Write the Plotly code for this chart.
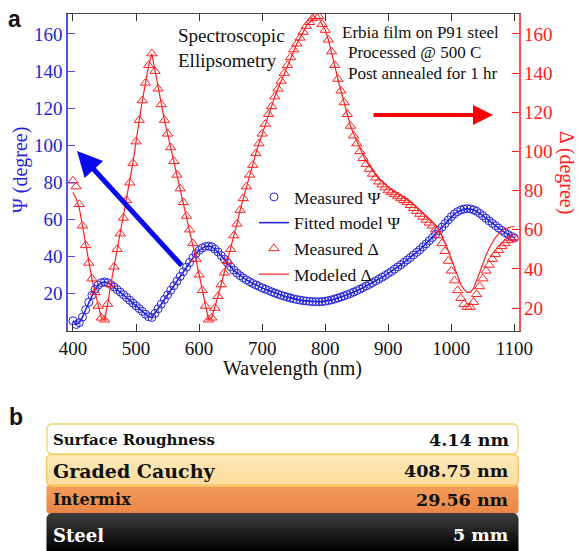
import plotly.graph_objects as go

W, H = 579, 551

# ---------------- data ----------------
wavelength = list(range(400, 1101, 5))

psi_measured = [
    5.0, 3.0, 4.0, 7.0, 11.0, 15.0, 18.8, 22.0, 24.3, 25.6,
    26.0, 25.6, 24.6, 23.3, 21.9, 20.5, 19.1, 17.6, 16.1, 14.6,
    13.1, 11.6, 10.1, 8.6, 7.2, 6.8, 9.0, 11.5, 14.0, 16.5,
    19.0, 21.5, 24.0, 26.5, 29.0, 31.5, 34.0, 36.5, 39.0, 41.3,
    43.1, 44.4, 45.2, 45.4, 45.0, 43.8, 42.2, 40.3, 38.3, 36.2,
    34.2, 32.4, 30.8, 29.4, 28.2, 27.1, 26.1, 25.2, 24.4, 23.6,
    22.8, 22.1, 21.4, 20.7, 20.0, 19.4, 18.8, 18.3, 17.8, 17.3,
    16.9, 16.5, 16.2, 15.9, 15.7, 15.5, 15.4, 15.3, 15.3, 15.4,
    15.6, 15.9, 16.3, 16.8, 17.3, 17.9, 18.5, 19.1, 19.8, 20.5,
    21.3, 22.1, 22.9, 23.8, 24.7, 25.6, 26.5, 27.5, 28.5, 29.5,
    30.6, 31.7, 32.9, 34.1, 35.3, 36.6, 37.9, 39.2, 40.6, 42.0,
    43.4, 45.0, 46.6, 48.3, 50.0, 51.8, 53.7, 55.6, 57.6, 59.5,
    61.3, 62.8, 64.0, 64.9, 65.4, 65.6, 65.5, 65.0, 64.2, 63.1,
    61.8, 60.4, 59.0, 57.7, 56.4, 55.1, 53.9, 52.7, 51.6, 50.6,
    49.8,
]
psi_fitted = list(psi_measured)

delta_measured = [
    85, 82, 73, 62, 52, 43, 35, 28, 21, 15,
    14, 22, 32, 41, 50, 58, 66, 75, 84, 94,
    105, 116, 126, 135, 144, 150, 141, 132, 124, 116,
    109, 102, 95, 88, 81, 74, 67, 60, 53, 45,
    37, 29, 21, 14, 15, 20, 26, 32, 38, 44,
    50, 57, 63, 70, 76, 82, 88, 93, 99, 104,
    109, 114, 119, 123, 128, 132, 136, 140, 144, 148,
    152, 155, 158, 161, 164, 166, 168, 169, 169, 165,
    162, 157, 151, 144, 137, 131, 125, 119, 113, 108,
    104, 100, 96.5, 93.5, 91, 88.5, 86.5, 84.5, 83, 81.5,
    80, 79, 78, 77, 76, 75, 74, 72.5, 71, 69.5,
    68, 66.5, 65, 63.5, 62, 60, 57, 53, 49, 44,
    39, 34, 29, 25, 22, 20.5, 20.5, 23, 27, 31,
    35, 39, 42, 45, 47.5, 49.5, 51.5, 53, 54.5, 55.5,
    56,
]

delta_modeled = [
    79, 76, 71, 62, 52, 43, 35, 28, 21, 15,
    14, 22, 32, 41, 50, 58, 66, 75, 84, 94,
    105, 116, 126, 135, 144, 150, 141, 132, 124, 116,
    109, 102, 95, 88, 81, 74, 67, 60, 53, 45,
    37, 29, 21, 14, 15, 20, 26, 32, 38, 44,
    50, 57, 63, 70, 76, 82, 88, 93, 99, 104,
    109, 114, 119, 123, 128, 132, 136, 140, 144, 148,
    152, 155, 158, 161, 164, 166, 167.5, 168, 168, 165,
    162, 157, 151, 144, 137, 131, 125, 119, 113, 109,
    105, 101.5, 98, 95, 92.5, 90, 88, 86, 84.5, 83,
    81.5, 80.5, 79.5, 78.5, 77.5, 76.5, 75.5, 74.5, 73, 71.5,
    70, 68.5, 67, 65.5, 64, 62.5, 60, 57, 53.5, 49.5,
    45, 40.5, 36, 32, 29.5, 28, 28, 30, 34, 38.5,
    43, 47, 50.5, 53.5, 56, 58, 59.5, 60.5, 61, 61.5,
    61.5,
]

x_ticks = [400, 500, 600, 700, 800, 900, 1000, 1100]
y_ticks = [20, 40, 60, 80, 100, 120, 140, 160]

layer_names = ["Surface Roughness", "Graded Cauchy", "Intermix", "Steel"]
layer_thickness = ["4.14 nm", "408.75 nm", "29.56 nm", "5 mm"]

# ---------------- styling ----------------
BLUE = "#2424dc"
BLUE_AX = "#5555d8"
RED = "#ff2020"
SERIF = "Liberation Serif"


def fx(p):
    return p / W


def fy(p):
    return 1 - p / H


# plot area in pixels
PL, PR, PT, PB = 68, 518.5, 14, 331

fig = go.Figure()
fig.add_trace(go.Scatter(
    x=wavelength, y=psi_measured, mode="markers", name="Measured Ψ",
    marker=dict(symbol="circle-open", size=8, color=BLUE, line=dict(width=1)),
    yaxis="y"))
fig.add_trace(go.Scatter(
    x=wavelength, y=psi_fitted, mode="lines", name="Fitted model Ψ",
    line=dict(color=BLUE, width=1.6), yaxis="y"))
fig.add_trace(go.Scatter(
    x=wavelength, y=delta_measured, mode="markers", name="Measured Δ",
    marker=dict(symbol="triangle-up-open", size=9, color=RED, line=dict(width=1)),
    yaxis="y2"))
fig.add_trace(go.Scatter(
    x=wavelength, y=delta_modeled, mode="lines", name="Modeled Δ",
    line=dict(color=RED, width=1.2), yaxis="y2"))

tickfont_x = dict(family=SERIF, size=19, color="#111")
fig.update_layout(
    width=W, height=H,
    margin=dict(l=0, r=0, t=0, b=0, autoexpand=False),
    paper_bgcolor="white", plot_bgcolor="white",
    showlegend=True,
    legend=dict(x=fx(254), y=fy(179), xanchor="left", yanchor="top",
                bgcolor="rgba(0,0,0,0)", font=dict(family=SERIF, size=17.5, color="#111"),
                itemwidth=30, tracegroupgap=0),
    xaxis=dict(domain=[fx(PL), fx(PR)], range=[392.1, 1106.5], automargin=False,
               tickvals=x_ticks, ticks="inside", ticklen=7, tickcolor="#333",
               showline=True, linecolor="#444", linewidth=1.3, mirror="ticks",
               showgrid=False, zeroline=False, tickfont=tickfont_x),
    yaxis=dict(domain=[fy(PB), fy(PT)], range=[-0.5, 170.8], automargin=False,
               tickvals=y_ticks, ticks="inside", ticklen=7, tickcolor=BLUE_AX,
               showline=True, linecolor=BLUE_AX, linewidth=1.5,
               showgrid=False, zeroline=False,
               tickfont=dict(family=SERIF, size=19, color=BLUE)),
    yaxis2=dict(overlaying="y", side="right", range=[8.25, 170.2], automargin=False,
                tickvals=y_ticks, ticks="inside", ticklen=7, tickcolor=RED,
                showline=True, linecolor="#ff5050", linewidth=1.5,
                showgrid=False, zeroline=False,
                tickfont=dict(family=SERIF, size=19, color=RED)),
)


def text_ann(text, x, y, size, color="#111", family=SERIF, xanchor="center", angle=0):
    return dict(text=text, x=fx(x), y=fy(y), xref="paper", yref="paper",
                xanchor=xanchor, yanchor="middle", showarrow=False, textangle=angle,
                font=dict(family=family, size=size, color=color))


ann = []
# axis titles
ann.append(text_ann("Wavelength (nm)", 293, 368, 20))
ann.append(text_ann("Ψ (degree)", 20, 170, 20, color=BLUE, angle=-90))
ann.append(text_ann("Δ (degree)", 567, 172, 20, color=RED, angle=90))
# text blocks
for t, yy in [("Spectroscopic", 35), ("Ellipsometry", 60)]:
    ann.append(text_ann(t, 176, yy, 19, xanchor="left"))
for t, xx, yy in [("Erbia film on P91 steel", 340, 33), ("Processed @ 500 C", 346, 53),
                  ("Post annealed for 1 hr", 346, 73)]:
    ann.append(text_ann(t, xx, yy, 17, xanchor="left"))
# arrows
ann.append(dict(text="", x=fx(77), y=fy(151), xref="paper", yref="paper",
                ax=106, ay=116, showarrow=True, arrowhead=2, arrowsize=1,
                arrowwidth=5, arrowcolor="#0a0aee"))
ann.append(dict(text="", x=fx(493), y=fy(115), xref="paper", yref="paper",
                ax=-121, ay=0, showarrow=True, arrowhead=2, arrowsize=1,
                arrowwidth=4, arrowcolor="#ff0000"))
# panel letters
ann.append(text_ann("<b>a</b>", 15, 19, 23, family="Liberation Sans"))
ann.append(text_ann("<b>b</b>", 16, 417, 23, family="Liberation Sans"))

# ---------------- panel b: layer stack ----------------
shapes = []


def hex2rgb(h):
    h = h.lstrip("#")
    return tuple(int(h[i:i + 2], 16) for i in (0, 2, 4))


def mix(c1, c2, t):
    a, b = hex2rgb(c1), hex2rgb(c2)
    return "rgb(%d,%d,%d)" % tuple(round(a[i] + (b[i] - a[i]) * t) for i in range(3))


def layer(x0, x1, y0, y1, ctop, cbot, r=5, border=None, round_bottom=True):
    n = int(round(y1 - y0))
    for i in range(n):
        ya, yb = y0 + i, y0 + i + 1
        ym = ya + 0.5
        inset = 0.0
        dtop = ym - y0
        dbot = y1 - ym
        if dtop < r:
            inset = r - (r * r - (r - dtop) ** 2) ** 0.5
        elif round_bottom and dbot < r:
            inset = r - (r * r - (r - dbot) ** 2) ** 0.5
        t = i / max(n - 1, 1)
        shapes.append(dict(type="rect", xref="paper", yref="paper",
                           x0=fx(x0 + inset), x1=fx(x1 - inset), y0=fy(yb), y1=fy(ya),
                           fillcolor=mix(ctop, cbot, t), line=dict(width=0), layer="above"))
    if border:
        k = 0.5523 * r
        bot = (f"L{fx(x1)},{fy(y1 - r)} C{fx(x1)},{fy(y1 - r + k)} {fx(x1 - r + k)},{fy(y1)} {fx(x1 - r)},{fy(y1)} "
               f"L{fx(x0 + r)},{fy(y1)} C{fx(x0 + r - k)},{fy(y1)} {fx(x0)},{fy(y1 - r + k)} {fx(x0)},{fy(y1 - r)} ")
        path = (f"M{fx(x0 + r)},{fy(y0)} L{fx(x1 - r)},{fy(y0)} "
                f"C{fx(x1 - r + k)},{fy(y0)} {fx(x1)},{fy(y0 + r - k)} {fx(x1)},{fy(y0 + r)} "
                + bot +
                f"L{fx(x0)},{fy(y0 + r)} C{fx(x0)},{fy(y0 + r - k)} {fx(x0 + r - k)},{fy(y0)} {fx(x0 + r)},{fy(y0)} Z")
        shapes.append(dict(type="path", xref="paper", yref="paper", path=path,
                           line=dict(color=border, width=1.3), fillcolor="rgba(0,0,0,0)", layer="above"))


LX0, LX1 = 46.5, 518.5
layer(LX0, LX1, 484.5, 514, "#f27d28", "#e15f08", r=4)
layer(LX0, LX1, 513, 552, "#3d3d3d", "#000000", r=6, round_bottom=False)
layer(LX0, LX1, 454.5, 486, "#fde2a0", "#fbd07c", r=5, border="#f2c85c")
layer(LX0 + 0.5, LX1 - 0.5, 424, 454, "#ffffff", "#ffffff", r=5, border="#f4d26a")

SLAB = "DejaVu Serif"
rows = [
    (layer_names[0], layer_thickness[0], 440, 15, 17.5, "#111"),
    (layer_names[1], layer_thickness[1], 471, 19, 17.5, "#111"),
    (layer_names[2], layer_thickness[2], 499.5, 16, 17.5, "#111"),
    (layer_names[3], layer_thickness[3], 535, 18, 17.5, "#ffffff"),
]
for name, val, yy, s1, s2, col in rows:
    ann.append(text_ann("<b>%s</b>" % name, 51, yy, s1, color=col, family=SLAB, xanchor="left"))
    ann.append(text_ann("<b>%s</b>" % val, 511, yy, s2, color=col, family=SLAB, xanchor="right"))

fig.update_layout(annotations=ann, shapes=shapes)
fig.write_html("out.html")
